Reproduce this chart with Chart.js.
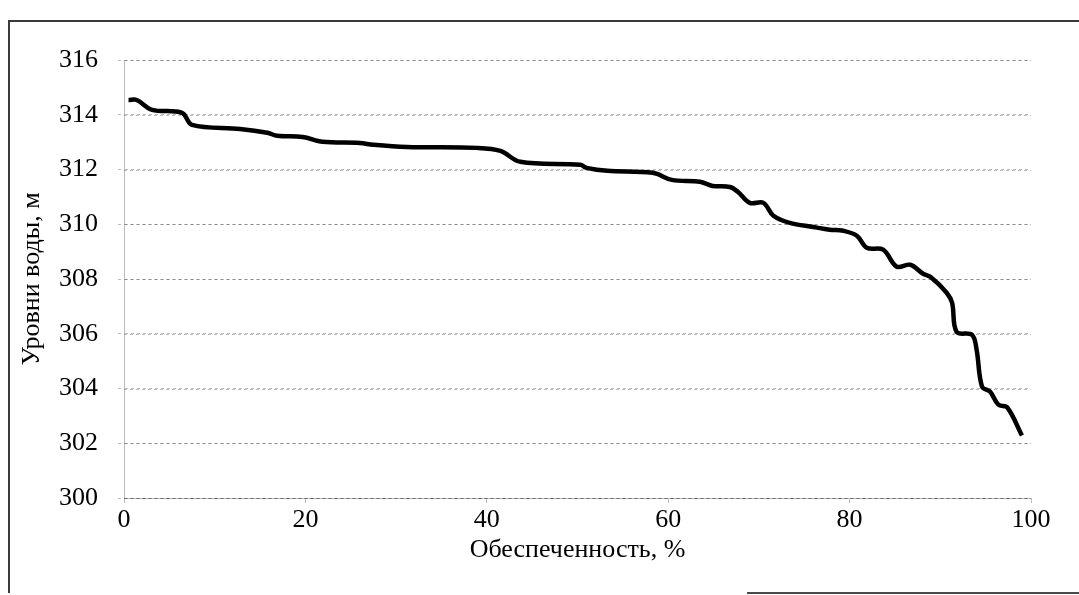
<!DOCTYPE html>
<html lang="ru">
<head>
<meta charset="utf-8">
<title>Кривая обеспеченности уровней воды</title>
<script src="https://cdn.jsdelivr.net/npm/chart.js@4/dist/chart.umd.min.js"></script>
<style>
  html, body { margin: 0; padding: 0; background: #fff; }
  body { width: 1079px; height: 595px; position: relative; overflow: hidden; }
  #levelsChart { position: absolute; left: 0; top: 0; }
  .frame-left { position: absolute; left: 8px; top: 21px; width: 2px; height: 572px; background: #3a3a3a; }
  .frame-top { position: absolute; left: 8px; top: 20px; width: 1071px; height: 2px; background: #3a3a3a; }
  .frame-bottom { position: absolute; left: 747px; top: 592px; width: 332px; height: 2px; background: #4a4a4a; }
</style>
</head>
<body>
<div class="frame-left"></div>
<div class="frame-top"></div>
<div class="frame-bottom"></div>
<canvas id="levelsChart" width="1079" height="595"></canvas>
<script>
// Обеспеченность, %
const supply = [0.5, 1.4, 3.1, 6.4, 7.5, 12.8, 15.8, 16.9, 19.7, 21.9, 26.0, 27.5, 31.2, 38.9, 41.5,
  43.7, 50.3, 51.0, 53.3, 58.3, 60.4, 63.5, 64.9, 66.8, 67.7, 69.0, 70.5, 71.6, 73.4, 76.0,
  77.8, 79.3, 80.8, 81.9, 83.7, 85.2, 86.7, 88.1, 88.9, 90.7, 91.3, 91.8, 93.5, 94.0, 94.6,
  95.5, 96.4, 97.4, 99.0];

// Уровни воды, м
const levels = [314.54, 314.54, 314.18, 314.07, 313.63, 313.48, 313.34, 313.23, 313.19, 313.01,
  312.97, 312.90, 312.82, 312.79, 312.68, 312.28, 312.17, 312.06, 311.95, 311.88, 311.62,
  311.55, 311.40, 311.36, 311.18, 310.78, 310.78, 310.31, 310.05, 309.90, 309.80, 309.76,
  309.58, 309.14, 309.07, 308.45, 308.52, 308.19, 308.08, 307.50, 307.13, 306.07, 305.96,
  305.42, 304.07, 303.88, 303.41, 303.30, 302.28];

const xTicks = [0, 20, 40, 60, 80, 100];
const yTicks = [300, 302, 304, 306, 308, 310, 312, 314, 316];

const serif = '"Liberation Serif", "Times New Roman", serif';
const gridColor = 'rgba(0, 0, 0, 0.26)';

const points = supply.map((x, i) => ({ x: x, y: levels[i] }));

const ctx = document.getElementById('levelsChart').getContext('2d');

new Chart(ctx, {
  type: 'line',
  data: {
    datasets: [{
      data: points,
      borderColor: '#000',
      borderWidth: 4.5,
      pointRadius: 0,
      fill: false,
      tension: 0.35
    }]
  },
  options: {
    responsive: false,
    animation: false,
    events: [],
    layout: {
      padding: { top: 60, right: 48, left: 0, bottom: 0 }
    },
    plugins: {
      legend: { display: false },
      tooltip: { enabled: false }
    },
    scales: {
      x: {
        type: 'linear',
        min: xTicks[0],
        max: xTicks[xTicks.length - 1],
        afterBuildTicks: scale => { scale.ticks = xTicks.map(v => ({ value: v })); },
        afterFit: scale => { scale.height = 97; },
        grid: {
          color: gridColor,
          lineWidth: 1,
          tickLength: 5,
          drawOnChartArea: false
        },
        border: { color: gridColor, dash: [3, 3] },
        ticks: {
          color: '#000',
          padding: 2,
          maxRotation: 0,
          font: { family: serif, size: 26 }
        },
        title: {
          display: true,
          text: 'Обеспеченность, %',
          color: '#000',
          padding: { top: 0, bottom: 29 },
          font: { family: serif, size: 26 }
        }
      },
      y: {
        min: yTicks[0],
        max: yTicks[yTicks.length - 1],
        afterBuildTicks: scale => { scale.ticks = yTicks.map(v => ({ value: v })); },
        afterFit: scale => { scale.width = 124; },
        grid: {
          color: gridColor,
          lineWidth: 1,
          tickLength: 6,
          tickBorderDash: [3, 3]
        },
        border: { color: gridColor, dash: [3, 3] },
        ticks: {
          color: '#000',
          padding: 20,
          font: { family: serif, size: 26 }
        },
        title: {
          display: true,
          text: 'Уровни воды, м',
          color: '#000',
          padding: { top: 17, bottom: 0 },
          font: { family: serif, size: 26 }
        }
      }
    }
  },
  plugins: [{
    // dashed horizontal grid, drawn across the plot area
    id: 'dashedGrid',
    beforeDatasetsDraw(chart) {
      const { ctx, chartArea, scales } = chart;
      ctx.save();
      ctx.strokeStyle = gridColor;
      ctx.lineWidth = 1;
      ctx.setLineDash([3, 3]);
      yTicks.forEach(v => {
        const y = Math.round(scales.y.getPixelForValue(v)) + 0.5;
        ctx.beginPath();
        ctx.moveTo(chartArea.left, y);
        ctx.lineTo(chartArea.right, y);
        ctx.stroke();
      });
      ctx.restore();
    }
  }]
});
</script>
</body>
</html>
